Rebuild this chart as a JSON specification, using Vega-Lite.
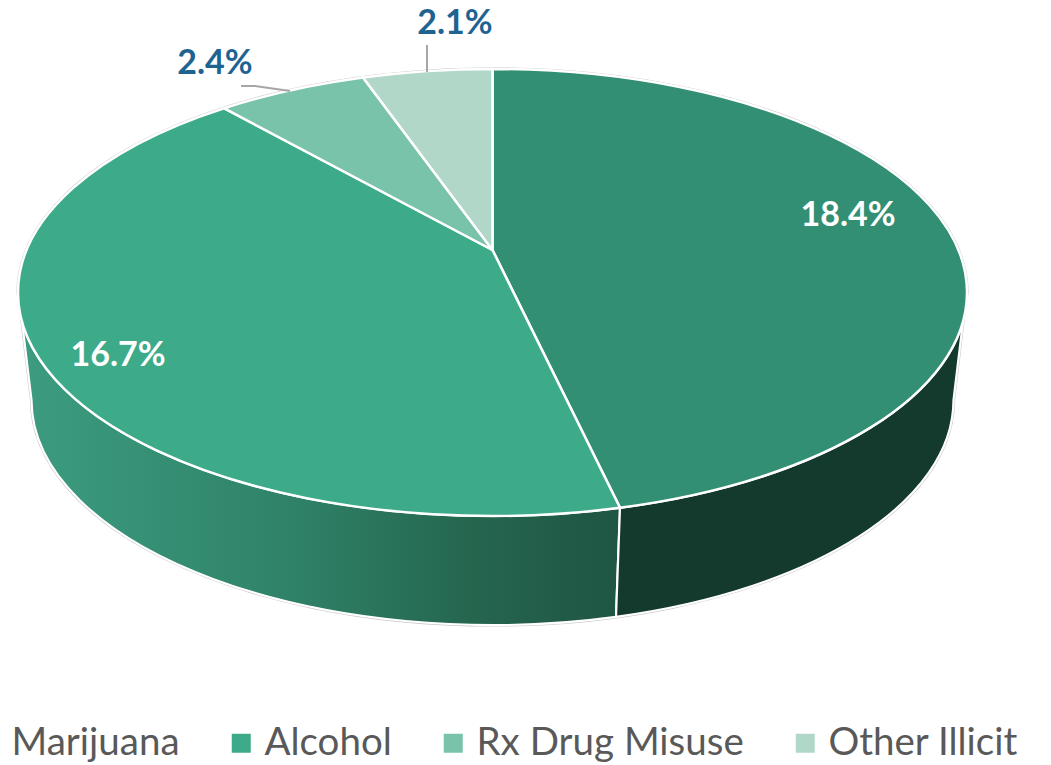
{
  "$schema": "https://vega.github.io/schema/vega-lite/v6.json",
  "width": 1051,
  "height": 765,
  "padding": 0,
  "autosize": {"type": "none"},
  "background": "#ffffff",
  "config": {"view": {"stroke": null}},
  "data": {"values": [
    {"category": "Marijuana", "share": 0.184},
    {"category": "Alcohol", "share": 0.167},
    {"category": "Rx Drug Misuse", "share": 0.024},
    {"category": "Other Illicit", "share": 0.021}
  ]},
  "encoding": {},
  "layer": [
    {
      "transform": [{"filter": "datum.category === 'Marijuana'"}],
      "mark": {"type": "point", "size": 4, "opacity": 1, "filled": false, "fill": null, "stroke": "#c6c6c6", "strokeWidth": 3.2,
        "shape": "M-507.5,-90 A474.5,223.5 0 0 1 441.5,-90 L437.5,-61 L428,17.5 A461,225 0 0 1 -494,17.5 L-503.5,-61 Z"}
    },
    {
      "transform": [{"filter": "datum.category === 'Alcohol'"}],
      "mark": {"type": "point", "size": 4, "opacity": 1, "filled": true, "stroke": "#ffffff", "strokeWidth": 2.2,
        "fill": {"gradient": "linear", "stops": [
          {"offset": 0, "color": "#3c9c80"},
          {"offset": 0.45, "color": "#2f8268"},
          {"offset": 0.75, "color": "#25664f"},
          {"offset": 1, "color": "#1f5544"}
        ]},
        "shape": "M-503.5,-61 A474.5,223.5 0 0 0 -33,133.5 A474.5,223.5 0 0 0 94.5,125.3 L90.5,234.3 A461,225 0 0 1 -494,17.5 Z"}
    },
    {
      "transform": [{"filter": "datum.category === 'Marijuana'"}],
      "mark": {"type": "point", "size": 4, "opacity": 1, "filled": true, "fill": "#143a2e", "stroke": "#ffffff", "strokeWidth": 2.2,
        "shape": "M437.5,-61 A474.5,223.5 0 0 1 94.5,125.3 L90.5,234.3 A461,225 0 0 0 428,17.5 Z"}
    },
    {
      "transform": [{"filter": "datum.category === 'Marijuana'"}],
      "mark": {"type": "point", "size": 4, "opacity": 1, "filled": true, "stroke": "#ffffff", "strokeWidth": 2.5,
        "shape": "M-33,-132.5 L-33,-313.5 A474.5,223.5 0 0 1 441.5,-90 A474.5,223.5 0 0 1 94.5,125.3 Z"},
      "encoding": {
        "color": {
          "field": "category", "type": "nominal", "sort": null,
          "scale": {
            "domain": ["Marijuana", "Alcohol", "Rx Drug Misuse", "Other Illicit"],
            "range": ["#338f74", "#3dab8a", "#78c3a9", "#b0d7c7"]
          },
          "legend": {
            "title": null, "orient": "none", "legendX": -31, "legendY": 724, "columns": 4, "gridAlign": "none",
            "columnPadding": 42, "symbolType": "square", "symbolSize": 361, "symbolStrokeWidth": 0, "symbolOffset": 0,
            "labelOffset": 4, "labelFont": "Lato", "labelFontSize": 38.5, "labelColor": "#595959", "labelLimit": 400,
            "padding": 0
          }
        }
      }
    },
    {
      "transform": [{"filter": "datum.category === 'Alcohol'"}],
      "mark": {"type": "point", "size": 4, "opacity": 1, "filled": true, "stroke": "#ffffff", "strokeWidth": 2.5,
        "shape": "M-33,-132.5 L94.5,125.3 A474.5,223.5 0 0 1 -33,133.5 A474.5,223.5 0 0 1 -507.5,-90 A474.5,223.5 0 0 1 -301.5,-274.3 Z"},
      "encoding": {"color": {"field": "category", "type": "nominal", "sort": null}}
    },
    {
      "transform": [{"filter": "datum.category === 'Rx Drug Misuse'"}],
      "mark": {"type": "point", "size": 4, "opacity": 1, "filled": true, "stroke": "#ffffff", "strokeWidth": 2.5,
        "shape": "M-33,-132.5 L-301.5,-274.3 A474.5,223.5 0 0 1 -162.5,-305 Z"},
      "encoding": {"color": {"field": "category", "type": "nominal", "sort": null}}
    },
    {
      "transform": [{"filter": "datum.category === 'Other Illicit'"}],
      "mark": {"type": "point", "size": 4, "opacity": 1, "filled": true, "stroke": "#ffffff", "strokeWidth": 2.5,
        "shape": "M-33,-132.5 L-162.5,-305 A474.5,223.5 0 0 1 -33,-313.5 Z"},
      "encoding": {"color": {"field": "category", "type": "nominal", "sort": null}}
    },
    {
      "transform": [{"filter": "datum.category === 'Rx Drug Misuse'"}],
      "mark": {"type": "point", "size": 4, "opacity": 1, "filled": false, "fill": null, "stroke": "#a6a6a6", "strokeWidth": 2,
        "shape": "M-284.5,-296.5 L-270.5,-296.5 L-235.5,-291.5"}
    },
    {
      "transform": [{"filter": "datum.category === 'Other Illicit'"}],
      "mark": {"type": "point", "size": 4, "opacity": 1, "filled": false, "fill": null, "stroke": "#a6a6a6", "strokeWidth": 2,
        "shape": "M-98.5,-337.5 L-98.5,-310.5"}
    },
    {
      "transform": [{"filter": "datum.category === 'Marijuana'"}],
      "mark": {"type": "text", "font": "Lato", "fontWeight": "bold", "fontSize": 34, "color": "#ffffff", "align": "center", "baseline": "middle", "dx": 322.5, "dy": -166.5},
      "encoding": {"text": {"field": "share", "type": "quantitative", "format": ".1%"}}
    },
    {
      "transform": [{"filter": "datum.category === 'Alcohol'"}],
      "mark": {"type": "text", "font": "Lato", "fontWeight": "bold", "fontSize": 34, "color": "#ffffff", "align": "center", "baseline": "middle", "dx": -407.5, "dy": -26.5},
      "encoding": {"text": {"field": "share", "type": "quantitative", "format": ".1%"}}
    },
    {
      "transform": [{"filter": "datum.category === 'Rx Drug Misuse'"}],
      "mark": {"type": "text", "font": "Lato", "fontWeight": "bold", "fontSize": 34, "color": "#1f6391", "align": "center", "baseline": "middle", "dx": -310.5, "dy": -318.5},
      "encoding": {"text": {"field": "share", "type": "quantitative", "format": ".1%"}}
    },
    {
      "transform": [{"filter": "datum.category === 'Other Illicit'"}],
      "mark": {"type": "text", "font": "Lato", "fontWeight": "bold", "fontSize": 34, "color": "#1f6391", "align": "center", "baseline": "middle", "dx": -70.5, "dy": -358.5},
      "encoding": {"text": {"field": "share", "type": "quantitative", "format": ".1%"}}
    }
  ]
}
